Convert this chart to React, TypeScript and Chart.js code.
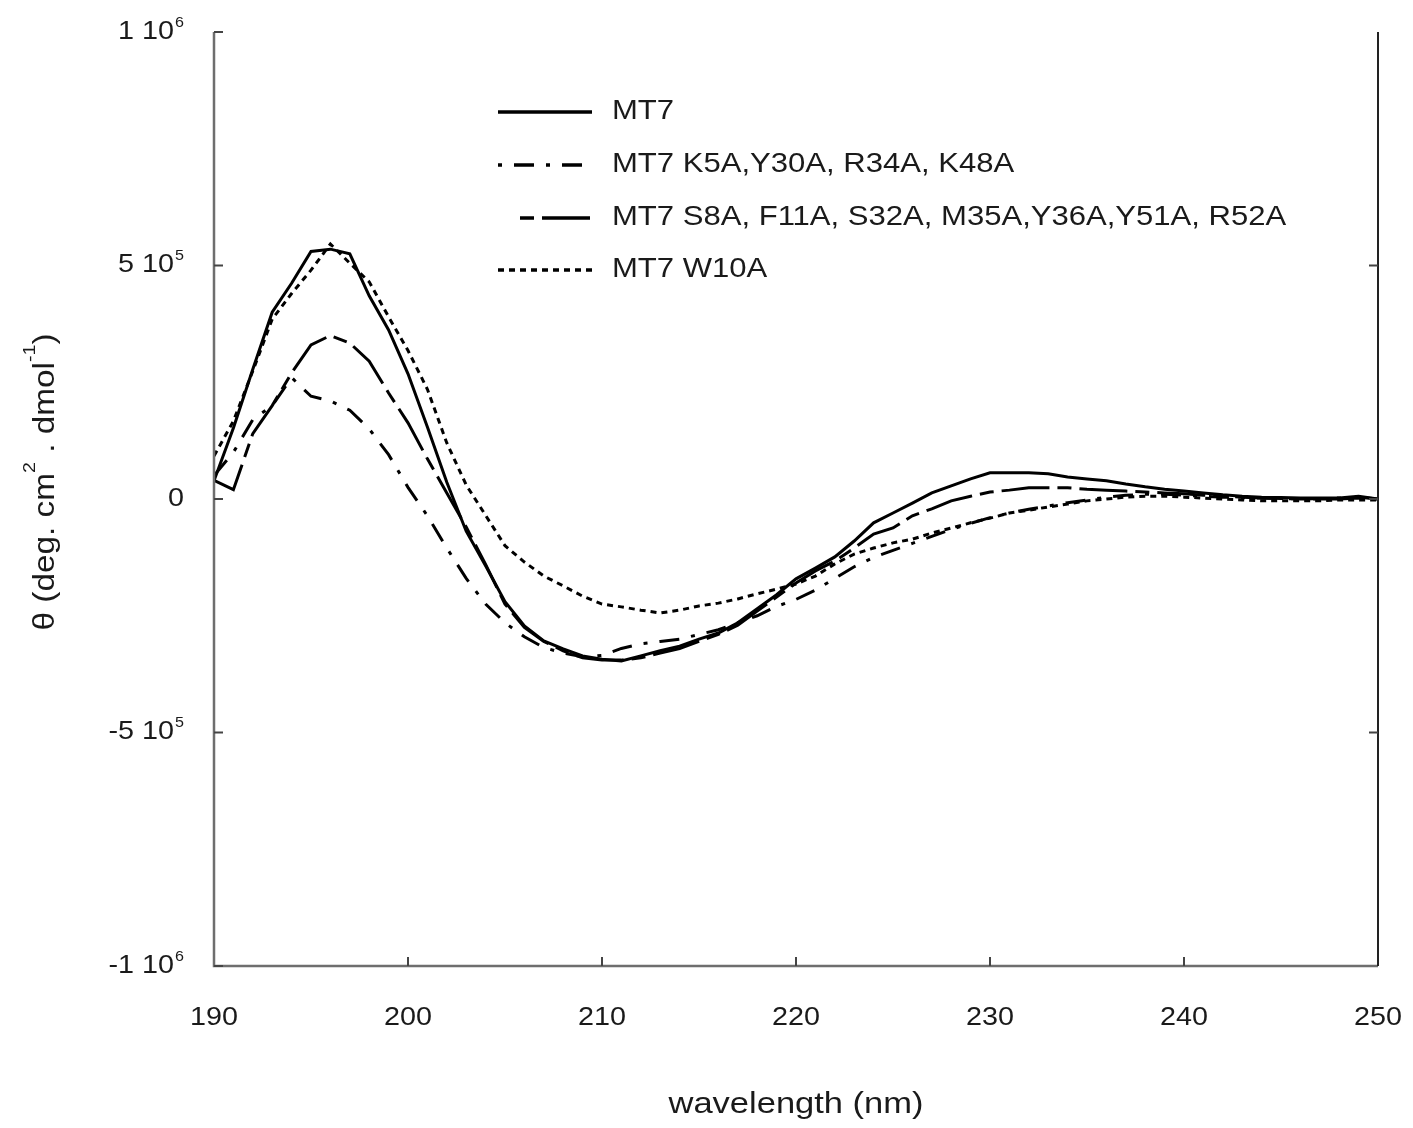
import React, { useEffect, useRef } from "react";
import { Chart, registerables } from "chart.js";

Chart.register(...registerables);

// wavelength (nm), 1 nm steps
const wavelengths: number[] = Array.from({ length: 61 }, (_, i) => 190 + i);

// θ values in units of 10^6 deg·cm²·dmol⁻¹
const mt7: number[] = [
  0.039, 0.152, 0.278, 0.4, 0.462, 0.53, 0.535, 0.525, 0.435, 0.362,
  0.268, 0.154, 0.036, -0.069, -0.143, -0.22, -0.272, -0.304, -0.321, -0.336,
  -0.343, -0.347, -0.336, -0.325, -0.315, -0.3, -0.287, -0.265, -0.235, -0.205,
  -0.171, -0.148, -0.124, -0.09, -0.051, -0.03, -0.009, 0.013, 0.028, 0.043,
  0.056, 0.056, 0.056, 0.054, 0.047, 0.043, 0.039, 0.032, 0.026, 0.021,
  0.017, 0.013, 0.009, 0.006, 0.004, 0.003, 0.002, 0.002, 0.002, 0.006,
  0.0,
];

const mt7K5A: number[] = [
  0.05, 0.1, 0.17, 0.2, 0.26, 0.22, 0.21, 0.19, 0.15, 0.095,
  0.025, -0.036, -0.105, -0.17, -0.225, -0.265, -0.295, -0.318, -0.33, -0.338,
  -0.335, -0.32, -0.31, -0.305, -0.3, -0.29, -0.28, -0.265, -0.25, -0.23,
  -0.215, -0.195, -0.17, -0.145, -0.125, -0.11, -0.095, -0.08, -0.065, -0.052,
  -0.04, -0.03, -0.022, -0.015, -0.008, -0.002, 0.004, 0.008, 0.01, 0.01,
  0.008, 0.006, 0.004, 0.003, 0.002, 0.001, 0.0, 0.001, 0.002, 0.004,
  0.0,
];

const mt7S8A: number[] = [
  0.04, 0.02, 0.14, 0.2, 0.27, 0.33, 0.35, 0.334, 0.295, 0.227,
  0.163, 0.086, 0.013, -0.06, -0.14, -0.225, -0.275, -0.305, -0.325, -0.34,
  -0.345, -0.345, -0.34, -0.33, -0.32, -0.305, -0.29, -0.27, -0.24, -0.21,
  -0.18, -0.154, -0.133, -0.105, -0.075, -0.062, -0.036, -0.021, -0.004, 0.006,
  0.015, 0.019, 0.024, 0.024, 0.024, 0.021, 0.019, 0.017, 0.015, 0.013,
  0.011, 0.008, 0.006, 0.004, 0.002, 0.001, 0.0, 0.0, 0.0, 0.002,
  0.0,
];

const mt7W10A: number[] = [
  0.092, 0.167, 0.274, 0.385, 0.44, 0.49, 0.546, 0.505, 0.465, 0.39,
  0.318, 0.235, 0.12, 0.03, -0.035, -0.1, -0.135, -0.165, -0.186, -0.208,
  -0.225, -0.231, -0.238, -0.244, -0.238, -0.229, -0.223, -0.214, -0.203, -0.193,
  -0.182, -0.165, -0.139, -0.118, -0.105, -0.094, -0.086, -0.073, -0.062, -0.051,
  -0.041, -0.03, -0.024, -0.017, -0.011, -0.004, 0.0, 0.004, 0.006, 0.006,
  0.004, 0.002, 0.0, -0.002, -0.004, -0.004, -0.004, -0.004, -0.002, -0.002,
  -0.002,
];

const seriesLabels: string[] = [
  "MT7",
  "MT7 K5A,Y30A, R34A, K48A",
  "MT7 S8A, F11A, S32A, M35A,Y36A,Y51A, R52A",
  "MT7 W10A",
];

const xTicks: number[] = [190, 200, 210, 220, 230, 240, 250];
const yTicks: number[] = [1e6, 5e5, 0, -5e5, -1e6];
const yTickMain: string[] = ["1 10", "5 10", "0", "-5 10", "-1 10"];
const yTickSup: string[] = ["6", "5", "", "5", "6"];

const FONT = '"Liberation Sans", Arial, Helvetica, sans-serif';
const SX = 1.15;

const dashes: number[][] = [[], [20, 12, 4, 12], [48, 8, 14, 8], [6, 5]];
const legendDashOffset: number[] = [0, 32, 56, 0];

function stretchedText(
  ctx: CanvasRenderingContext2D,
  text: string,
  x: number,
  y: number,
  size: number,
  align: "left" | "center" | "right"
) {
  ctx.save();
  ctx.font = `${size}px ${FONT}`;
  const w = ctx.measureText(text).width * SX;
  let start = x;
  if (align === "center") start = x - w / 2;
  else if (align === "right") start = x - w;
  ctx.translate(start, y);
  ctx.scale(SX, 1);
  ctx.textAlign = "left";
  ctx.textBaseline = "middle";
  ctx.fillText(text, 0, 0);
  ctx.restore();
  return w;
}

const framePlugin = {
  id: "framePlugin",
  afterDraw(chart: any) {
    const ctx: CanvasRenderingContext2D = chart.ctx;
    const { left, right, top, bottom } = chart.chartArea;
    const xs = chart.scales.x;
    const ys = chart.scales.y;
    ctx.save();
    // frame
    ctx.lineCap = "butt";
    ctx.strokeStyle = "#6e6e6e";
    ctx.lineWidth = 2.5;
    ctx.beginPath();
    ctx.moveTo(left, top);
    ctx.lineTo(left, bottom);
    ctx.lineTo(right, bottom);
    ctx.stroke();
    ctx.strokeStyle = "#222";
    ctx.lineWidth = 2;
    ctx.beginPath();
    ctx.moveTo(right, top);
    ctx.lineTo(right, bottom);
    ctx.stroke();

    // y ticks (inward, both sides)
    ctx.strokeStyle = "#444";
    ctx.lineWidth = 2;
    yTicks.forEach((v) => {
      const py = ys.getPixelForValue(v);
      ctx.beginPath();
      ctx.moveTo(left, py);
      ctx.lineTo(left + 9, py);
      if (v !== 1e6 && v !== -1e6) {
        ctx.moveTo(right, py);
        ctx.lineTo(right - 9, py);
      }
      ctx.stroke();
    });
    // x ticks (inward)
    xTicks.forEach((v) => {
      const px = xs.getPixelForValue(v);
      if (v === 190 || v === 250) return;
      ctx.beginPath();
      ctx.moveTo(px, bottom);
      ctx.lineTo(px, bottom - 9);
      ctx.stroke();
    });

    ctx.fillStyle = "#1a1a1a";
    // y tick labels
    yTicks.forEach((v, i) => {
      const py = ys.getPixelForValue(v);
      const rightEdge = 184;
      const sup = yTickSup[i];
      if (sup) {
        ctx.font = `14px ${FONT}`;
        const sw = ctx.measureText(sup).width * SX;
        stretchedText(ctx, sup, rightEdge - sw, py - 9, 14, "left");
        stretchedText(ctx, yTickMain[i], rightEdge - sw - 1, py, 25, "right");
      } else {
        stretchedText(ctx, yTickMain[i], rightEdge, py, 25, "right");
      }
    });
    // x tick labels
    xTicks.forEach((v) => {
      const px = xs.getPixelForValue(v);
      stretchedText(ctx, String(v), px, 1018, 25, "center");
    });
    // x title
    stretchedText(ctx, "wavelength (nm)", (left + right) / 2, 1105, 30, "center");

    // y title (rotated)
    ctx.save();
    ctx.translate(54, 482);
    ctx.rotate(-Math.PI / 2);
    const parts: [string, boolean][] = [
      ["θ (deg. cm", false],
      ["2", true],
      [" . dmol", false],
      ["-1", true],
      [")", false],
    ];
    let total = 0;
    parts.forEach(([t, s]) => {
      ctx.font = `${s ? 17 : 29}px ${FONT}`;
      total += ctx.measureText(t).width * SX;
    });
    let cx = -total / 2;
    parts.forEach(([t, s]) => {
      ctx.font = `${s ? 17 : 29}px ${FONT}`;
      const w = ctx.measureText(t).width * SX;
      ctx.save();
      ctx.translate(cx, s ? -19 : 0);
      ctx.scale(SX, 1);
      ctx.textAlign = "left";
      ctx.textBaseline = "alphabetic";
      ctx.fillText(t, 0, 0);
      ctx.restore();
      cx += w;
    });
    ctx.restore();

    // legend
    const rows = [112, 165, 218, 270];
    const starts = [498, 498, 520, 498];
    rows.forEach((ry, i) => {
      ctx.save();
      ctx.strokeStyle = "#000";
      ctx.lineWidth = 3.5;
      ctx.setLineDash(dashes[i]);
      ctx.lineDashOffset = legendDashOffset[i];
      ctx.beginPath();
      ctx.moveTo(starts[i], ry);
      ctx.lineTo(592, ry);
      ctx.stroke();
      ctx.restore();
      stretchedText(ctx, seriesLabels[i], 612, ry, 27, "left");
    });
    ctx.restore();
  },
};

export default function App() {
  const canvasRef = useRef<HTMLCanvasElement | null>(null);

  useEffect(() => {
    document.body.style.margin = "0";
    const canvas = canvasRef.current;
    if (!canvas) return;
    const allSeries = [mt7, mt7K5A, mt7S8A, mt7W10A];
    const chart = new Chart(canvas, {
      type: "line",
      data: {
        datasets: allSeries.map((s, i) => ({
          label: seriesLabels[i],
          data: s.map((v, j) => ({ x: wavelengths[j], y: v * 1e6 })),
          borderColor: "#000",
          borderWidth: 3,
          borderDash: dashes[i],
          pointRadius: 0,
          fill: false,
          tension: 0,
        })),
      },
      options: {
        animation: false,
        responsive: false,
        maintainAspectRatio: false,
        devicePixelRatio: 1,
        layout: { padding: { left: 214, right: 35, top: 32, bottom: 162 } },
        plugins: { legend: { display: false }, tooltip: { enabled: false } },
        scales: {
          x: { type: "linear", min: 190, max: 250, display: false },
          y: { type: "linear", min: -1e6, max: 1e6, display: false },
        },
      },
      plugins: [framePlugin],
    });
    return () => chart.destroy();
  }, []);

  return (
    <div style={{ width: 1413, height: 1128, background: "#fff" }}>
      <canvas ref={canvasRef} width={1413} height={1128} style={{ display: "block" }} />
    </div>
  );
}
